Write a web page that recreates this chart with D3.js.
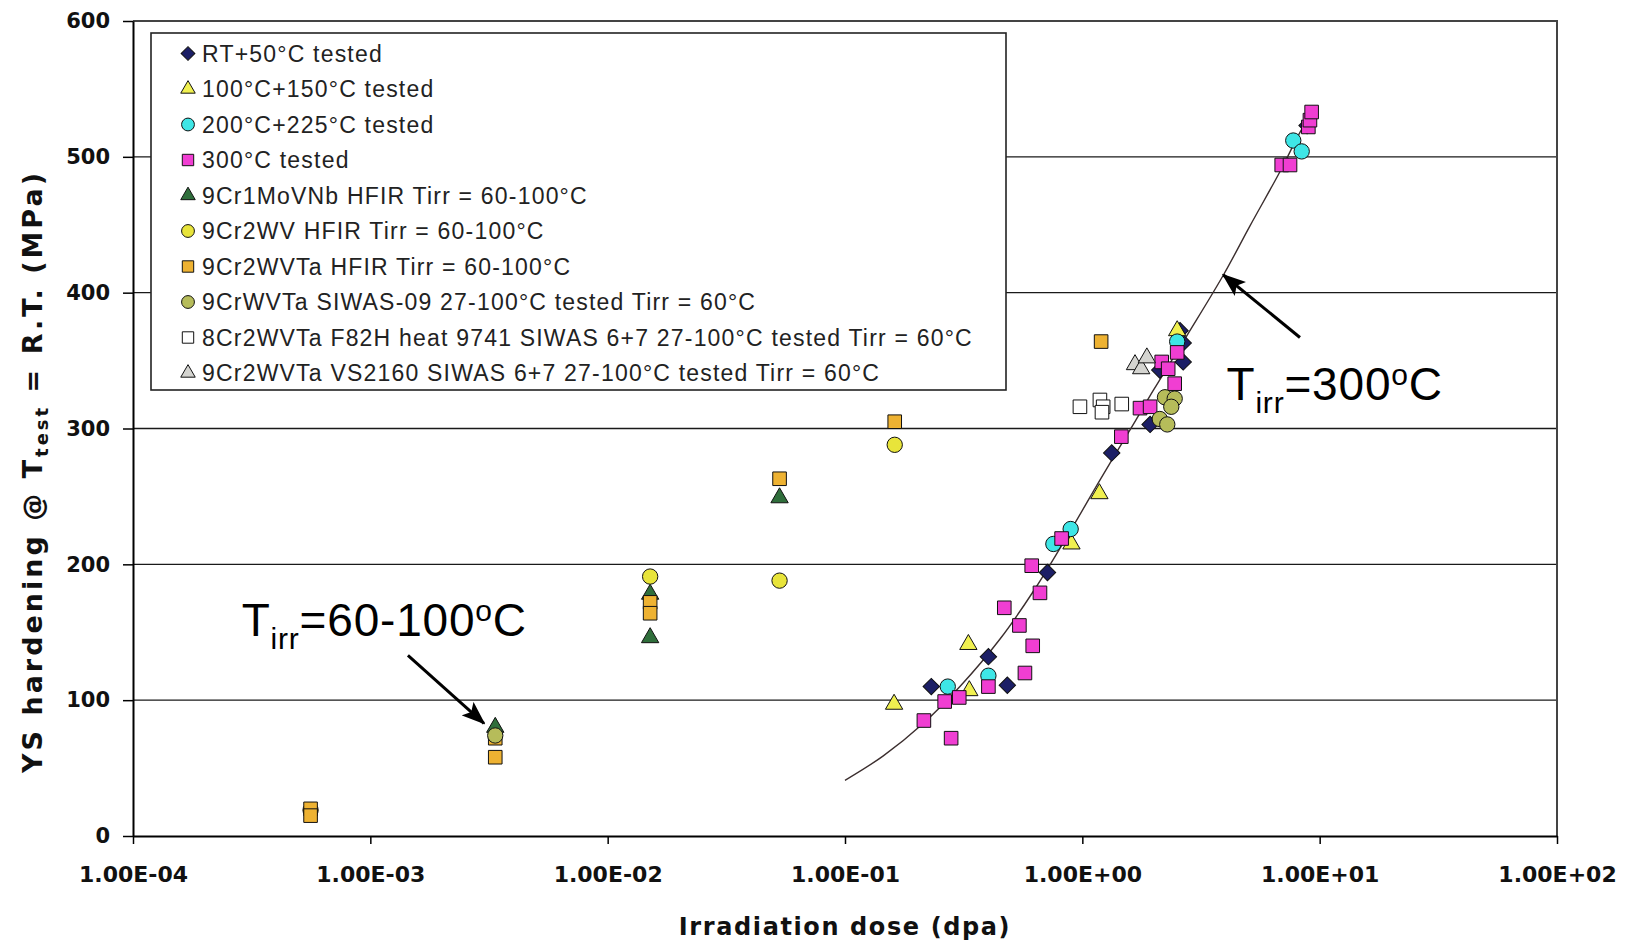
<!DOCTYPE html>
<html>
<head>
<meta charset="utf-8">
<script src="https://cdn.jsdelivr.net/npm/d3@7"></script>
<style>
  body { margin: 0; background: #fff; }
  svg { display: block; }
  text { font-family: "Liberation Sans", Arial, sans-serif; }
  .axis text { font-family: "DejaVu Sans", sans-serif; font-weight: bold; fill: #111; }
  .title { font-family: "DejaVu Sans", sans-serif; font-weight: bold; fill: #111; }
</style>
</head>
<body>
<div id="chart"></div>
<script>
// chart size and plot area
const WIDTH = 1627
const HEIGHT = 946
const MARGIN = { top: 21, right: 70, bottom: 110, left: 133 }

// axes
const X_TICKS = [1e-4, 1e-3, 1e-2, 1e-1, 1e0, 1e1, 1e2]
const X_TICK_LABELS = ['1.00E-04', '1.00E-03', '1.00E-02', '1.00E-01', '1.00E+00', '1.00E+01', '1.00E+02']
const Y_TICKS = [0, 100, 200, 300, 400, 500, 600]
const Y_TICK_LABELS = ['0', '100', '200', '300', '400', '500', '600']
const GRID_VALUES = [100, 200, 300, 400, 500]

// legend names, same order as the series below
const SERIES_NAMES = [
    'RT+50°C tested',
    '100°C+150°C tested',
    '200°C+225°C tested',
    '300°C tested',
    '9Cr1MoVNb HFIR Tirr = 60-100°C',
    '9Cr2WV HFIR Tirr = 60-100°C',
    '9Cr2WVTa HFIR Tirr = 60-100°C',
    '9CrWVTa SIWAS-09 27-100°C tested Tirr = 60°C',
    '8Cr2WVTa F82H heat 9741 SIWAS 6+7 27-100°C tested Tirr = 60°C',
    '9Cr2WVTa VS2160 SIWAS 6+7 27-100°C tested Tirr = 60°C'
]

// points, [dose (dpa), YS hardening (MPa)]
const RT50 = [[0.231, 110], [0.402, 132], [0.483, 111], [0.713, 194], [1.33, 282], [1.93, 303],
    [2.12, 343], [2.58, 372], [2.66, 363], [2.66, 349], [8.85, 523]]
const T100 = [[0.161, 97], [0.331, 141], [0.334, 107], [0.90, 215], [1.18, 252], [2.51, 372]]
const T200 = [[0.271, 110], [0.402, 118], [0.755, 215], [0.893, 226], [2.51, 364], [7.74, 512], [8.4, 504]]
const T300 = [[0.215, 85], [0.263, 99], [0.28, 72], [0.303, 102], [0.402, 110], [0.469, 168],
    [0.543, 155], [0.573, 120], [0.612, 199], [0.618, 140], [0.663, 179], [0.818, 219],
    [1.46, 294], [1.75, 315], [1.93, 316], [2.16, 349], [2.30, 344], [2.45, 333], [2.51, 356],
    [6.92, 494], [7.5, 494], [8.96, 522], [9.1, 527], [9.25, 533]]
const MOVNB_HFIR = [[0.00336, 80], [0.0151, 178], [0.0151, 146], [0.053, 249]]
const WV_HFIR = [[0.00056, 19], [0.0151, 191], [0.053, 188], [0.162, 288]]
const WVTA_HFIR = [[0.00056, 20], [0.00056, 15], [0.00336, 72], [0.00336, 58], [0.0151, 172],
    [0.0151, 164], [0.053, 263], [0.162, 305], [1.2, 364]]
const SIWAS09 = [[0.00336, 74], [2.23, 323], [2.45, 322], [2.37, 316], [2.12, 307], [2.28, 303]]
const F82H = [[0.977, 316], [1.186, 321], [1.224, 316], [1.21, 312], [1.466, 318]]
const VS2160 = [[1.667, 347], [1.77, 344], [1.87, 352]]

// fitted trend for Tirr = 300°C
const FIT_CURVE = [[0.1, 41], [0.145, 59], [0.214, 83], [0.305, 110], [0.45, 145], [0.621, 180],
    [0.893, 225], [1.186, 262], [1.64, 303], [1.99, 328], [2.75, 368], [3.93, 413], [5.08, 449],
    [6.8, 489], [8.26, 518], [9.1, 530]]

// annotations: text position and arrow tail / tip in data units
const ANNOTATIONS = [
    { value: '300', text: [4.05, 321], tail: [8.26, 367], tip: [3.93, 413] },
    { value: '60-100', text: [2.87e-4, 147], tail: [1.44e-3, 133], tip: [3.01e-3, 83] }
]

const STYLES = [
    { shape: 'diamond', fill: '#1c1f66' },
    { shape: 'triangle', fill: '#f0f050' },
    { shape: 'circle', fill: '#3ee6e6' },
    { shape: 'square', fill: '#f03ed2' },
    { shape: 'triangle', fill: '#2f6e3b' },
    { shape: 'circle', fill: '#e8e43a' },
    { shape: 'square', fill: '#eeb232' },
    { shape: 'circle', fill: '#b6bc5a' },
    { shape: 'square', fill: '#ffffff' },
    { shape: 'triangle', fill: '#d4d4d0' }
]
const SERIES_DATA = [RT50, T100, T200, T300, MOVNB_HFIR, WV_HFIR, WVTA_HFIR, SIWAS09, F82H, VS2160]
const series = SERIES_NAMES.map((name, i) => ({ name, data: SERIES_DATA[i], ...STYLES[i] }))

const SYMBOLS = { diamond: d3.symbolSquare, triangle: d3.symbolTriangle, circle: d3.symbolCircle, square: d3.symbolSquare }
const SIZES = { diamond: 135, triangle: 130, circle: 185, square: 185 }

function symbolPath (shape, scale) {
    return d3.symbol(SYMBOLS[shape], SIZES[shape] * scale)()
}
function symbolTransform (shape, px, py) {
    return `translate(${px},${py})` + (shape === 'diamond' ? ' rotate(45)' : '')
}

const x = d3.scaleLog().domain([1e-4, 1e2]).range([MARGIN.left, WIDTH - MARGIN.right])
const y = d3.scaleLinear().domain([0, 600]).range([HEIGHT - MARGIN.bottom, MARGIN.top])

const svg = d3.select('#chart').append('svg')
    .attr('width', WIDTH)
    .attr('height', HEIGHT)

// gridlines
svg.append('g')
    .selectAll('line')
    .data(GRID_VALUES)
    .join('line')
        .attr('x1', MARGIN.left)
        .attr('x2', WIDTH - MARGIN.right)
        .attr('y1', d => y(d))
        .attr('y2', d => y(d))
        .attr('stroke', '#1a1a1a')
        .attr('stroke-width', 1.4)

// top and right frame of plot area
svg.append('path')
    .attr('d', `M${MARGIN.left},${y(600)}H${x(1e2)}V${y(0)}`)
    .attr('fill', 'none')
    .attr('stroke', '#444')
    .attr('stroke-width', 2)

// axes
const xAxis = svg.append('g')
    .attr('class', 'axis')
    .attr('transform', `translate(0,${y(0)})`)
    .call(d3.axisBottom(x).tickValues(X_TICKS).tickSize(8).tickSizeOuter(0).tickPadding(22)
        .tickFormat((d, i) => X_TICK_LABELS[i]))
xAxis.selectAll('text').attr('font-size', 22)

const yAxis = svg.append('g')
    .attr('class', 'axis')
    .attr('transform', `translate(${MARGIN.left},0)`)
    .call(d3.axisLeft(y).tickValues(Y_TICKS).tickSize(10).tickSizeOuter(0).tickPadding(13)
        .tickFormat((d, i) => Y_TICK_LABELS[i]))
yAxis.selectAll('text').attr('font-size', 21)

svg.selectAll('.axis .domain').attr('stroke', '#000').attr('stroke-width', 2)
svg.selectAll('.axis .tick line').attr('stroke', '#000').attr('stroke-width', 1.5)

// axis titles
svg.append('text')
    .attr('class', 'title')
    .attr('x', (x(1e-4) + x(1e2)) / 2)
    .attr('y', 935)
    .attr('text-anchor', 'middle')
    .attr('font-size', 24)
    .attr('letter-spacing', 1.6)
    .text('Irradiation dose (dpa)')

const yTitle = svg.append('text')
    .attr('class', 'title')
    .attr('transform', `translate(42,${(y(0) + y(600)) / 2 + 43}) rotate(-90)`)
    .attr('text-anchor', 'middle')
    .attr('font-size', 27)
    .attr('letter-spacing', 3)
yTitle.append('tspan').text('YS hardening @ T')
yTitle.append('tspan').attr('font-size', 18).attr('dy', 6).text('test')
yTitle.append('tspan').attr('dy', -6).text(' = R.T. (MPa)')

// fitted curve
svg.append('path')
    .datum(FIT_CURVE)
    .attr('fill', 'none')
    .attr('stroke', '#3b2e2e')
    .attr('stroke-width', 1.4)
    .attr('d', d3.line().x(d => x(d[0])).y(d => y(d[1])).curve(d3.curveCatmullRom.alpha(0.5)))

// data points
svg.append('g')
    .selectAll('g')
    .data(series)
    .join('g')
    .each(function (s) {
        d3.select(this).selectAll('path')
            .data(s.data)
            .join('path')
                .attr('d', symbolPath(s.shape, 1))
                .attr('transform', d => symbolTransform(s.shape, x(d[0]), y(d[1])))
                .attr('fill', s.fill)
                .attr('stroke', '#111')
                .attr('stroke-width', 1)
    })

// annotations with arrows
svg.append('defs').append('marker')
    .attr('id', 'arrow')
    .attr('markerUnits', 'userSpaceOnUse')
    .attr('viewBox', '0 0 24 18')
    .attr('markerWidth', 24)
    .attr('markerHeight', 18)
    .attr('refX', 22)
    .attr('refY', 9)
    .attr('orient', 'auto')
    .append('path')
        .attr('d', 'M0,0L24,9L0,18L5,9Z')
        .attr('fill', '#000')

ANNOTATIONS.forEach(a => {
    svg.append('line')
        .attr('x1', x(a.tail[0]))
        .attr('y1', y(a.tail[1]))
        .attr('x2', x(a.tip[0]))
        .attr('y2', y(a.tip[1]))
        .attr('stroke', '#000')
        .attr('stroke-width', 3)
        .attr('marker-end', 'url(#arrow)')

    const t = svg.append('text')
        .attr('x', x(a.text[0]))
        .attr('y', y(a.text[1]))
        .attr('font-size', 46)
        .attr('letter-spacing', 0.8)
        .attr('fill', '#000')
    t.append('tspan').text('T')
    t.append('tspan').attr('font-size', 30).attr('dy', 13).text('irr')
    t.append('tspan').attr('dy', -13).text('=' + a.value)
    t.append('tspan').attr('font-size', 30).attr('dy', -15).text('o')
    t.append('tspan').attr('dy', 15).text('C')
})

// legend
const legend = svg.append('g')
legend.append('rect')
    .attr('x', 151)
    .attr('y', 33)
    .attr('width', 855)
    .attr('height', 357)
    .attr('fill', '#fff')
    .attr('stroke', '#222')
    .attr('stroke-width', 1.6)

const items = legend.selectAll('g.item')
    .data(series)
    .join('g')
        .attr('class', 'item')
        .attr('transform', (s, i) => `translate(188,${53.5 + i * 35.5})`)
items.append('path')
    .attr('d', s => symbolPath(s.shape, 0.7))
    .attr('transform', s => symbolTransform(s.shape, 0, 0))
    .attr('fill', s => s.fill)
    .attr('stroke', '#111')
    .attr('stroke-width', 1)
items.append('text')
    .attr('x', 14)
    .attr('dy', '0.35em')
    .attr('font-size', 23)
    .attr('letter-spacing', 1.2)
    .attr('fill', '#222')
    .text(s => s.name)
</script>
</body>
</html>
